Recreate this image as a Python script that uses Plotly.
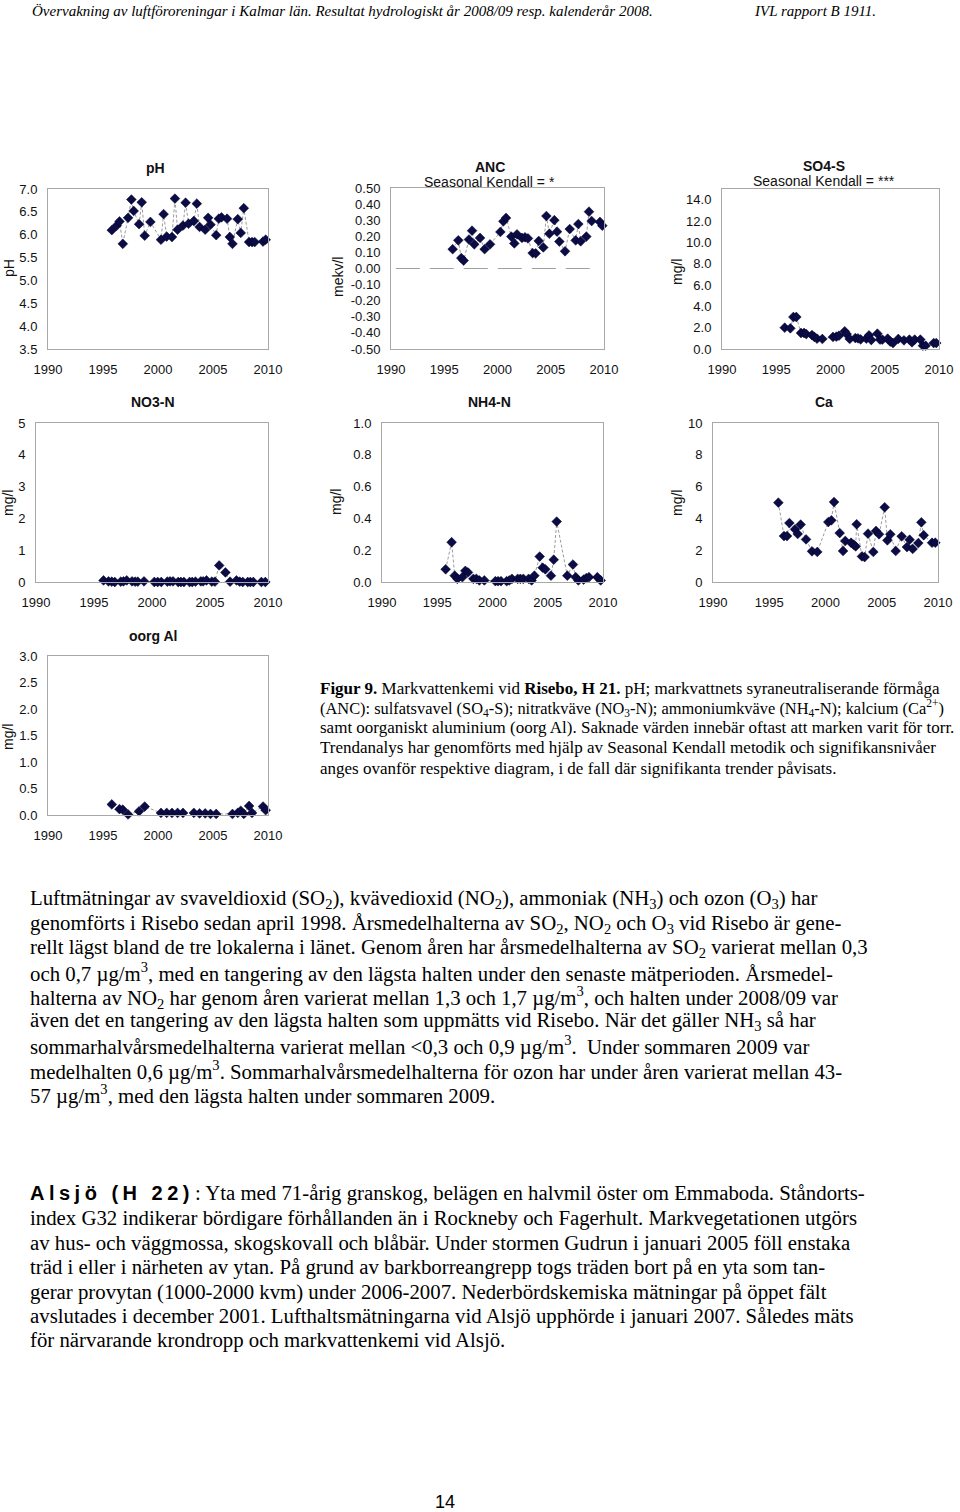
import plotly.graph_objects as go

W, H = 960, 1512

# ---------------- data (decimal year, value) ----------------
ph_years = [1995.80, 1996.25, 1996.50, 1996.80, 1997.28, 1997.58, 1997.79, 1998.28, 1998.52, 1998.79,
            1999.31, 2000.27, 2000.51, 2000.79, 2001.27, 2001.54, 2001.78, 2002.27, 2002.51, 2002.78,
            2003.26, 2003.53, 2003.78, 2004.29, 2004.56, 2004.77, 2005.29, 2005.53, 2005.77, 2006.28,
            2006.53, 2006.77, 2007.25, 2007.52, 2007.80, 2008.28, 2008.55, 2008.79, 2009.55, 2009.79]
ph_values = [6.10, 6.20, 6.29, 5.80, 6.37, 6.77, 6.52, 6.23, 6.71, 5.98,
             6.28, 5.89, 6.45, 5.96, 5.95, 6.79, 6.11, 6.20, 6.70, 6.24,
             6.30, 6.68, 6.17, 6.11, 6.37, 6.22, 5.99, 6.35, 6.38, 6.35,
             5.95, 5.80, 6.34, 6.04, 6.58, 5.84, 5.84, 5.84, 5.85, 5.89]

anc_years = [1995.79, 1996.32, 1996.60, 1996.82, 1997.32, 1997.61, 1997.82, 1998.36, 1998.79, 1999.30,
             2000.27, 2000.55, 2000.80, 2001.30, 2001.58, 2001.83, 2002.30, 2002.58, 2002.86, 2003.30,
             2003.58, 2003.87, 2004.30, 2004.59, 2004.87, 2005.34, 2005.59, 2005.81, 2006.34, 2006.78,
             2007.34, 2007.59, 2007.81, 2008.34, 2008.59, 2008.84, 2009.62, 2009.84]
anc_values = [0.12, 0.175, 0.065, 0.049, 0.18, 0.235, 0.15, 0.19, 0.12, 0.15,
              0.227, 0.293, 0.314, 0.198, 0.156, 0.212, 0.19, 0.194, 0.187, 0.096,
              0.094, 0.171, 0.131, 0.326, 0.216, 0.30, 0.229, 0.167, 0.107, 0.245,
              0.175, 0.276, 0.169, 0.198, 0.353, 0.295, 0.289, 0.266]
anc_zero_years = [1990.45, 2009.6]
anc_zero_values = [0.0, 0.0]
anc_tick_values = [-0.5, -0.4, -0.3, -0.2, -0.1, 0.0, 0.1, 0.2, 0.3, 0.4, 0.5]
anc_tick_labels = ["-0.50", "-0.40", "-0.30", "-0.20", "-0.10", "0.00",
                   "0.10", "0.20", "0.30", "0.40", "0.50"]

so4_years = [1995.78, 1996.30, 1996.58, 1996.85, 1997.28, 1997.56, 1997.77, 1998.29, 1998.51, 1998.76,
             1999.25, 2000.23, 2000.54, 2000.78, 2001.31, 2001.49, 2001.77, 2002.29, 2002.53, 2002.78,
             2003.30, 2003.55, 2003.76, 2004.32, 2004.56, 2004.78, 2005.27, 2005.51, 2005.76, 2006.25,
             2006.77, 2007.27, 2007.51, 2007.76, 2008.28, 2008.52, 2008.77, 2009.51, 2009.75]
so4_values = [2.0, 1.94, 3.0, 3.0, 1.5, 1.5, 1.4, 1.31, 1.13, 0.97,
              0.94, 1.13, 1.16, 1.25, 1.66, 1.4, 0.94, 1.03, 1.0, 0.9,
              0.97, 1.28, 0.84, 1.44, 0.88, 0.88, 0.97, 0.69, 0.56, 0.94,
              0.81, 0.88, 0.63, 0.88, 0.88, 0.31, 0.31, 0.56, 0.56]

no3_years = [1995.82, 1996.25, 1996.53, 1996.79, 1997.31, 1997.54, 1997.82, 1998.28, 1998.54, 1998.77,
             1999.31, 2000.20, 2000.49, 2000.80, 2001.32, 2001.55, 2001.81, 2002.26, 2002.49, 2002.75,
             2003.24, 2003.47, 2003.75, 2004.21, 2004.41, 2004.70, 2005.16, 2005.42, 2005.79, 2006.33,
             2006.73, 2007.28, 2007.56, 2007.82, 2008.25, 2008.48, 2008.74, 2009.43, 2009.77]
no3_values = [0.05, 0.02, 0.01, 0.0, 0.01, 0.02, 0.05, 0.02, 0.01, 0.01,
              0.02, 0.0, 0.0, 0.0, 0.01, 0.02, 0.02, 0.0, 0.0, 0.0,
              0.0, 0.0, 0.01, 0.02, 0.02, 0.05, 0.01, 0.01, 0.52, 0.30,
              0.01, 0.05, 0.01, 0.0, 0.0, 0.0, 0.0, 0.0, 0.0]

nh4_years = [1995.76, 1996.30, 1996.58, 1996.82, 1997.27, 1997.54, 1997.78, 1998.27, 1998.54, 1998.81,
             1999.26, 2000.26, 2000.50, 2000.77, 2001.28, 2001.52, 2001.76, 2002.28, 2002.52, 2002.79,
             2003.27, 2003.54, 2003.79, 2004.27, 2004.54, 2004.78, 2005.29, 2005.54, 2005.81, 2006.77,
             2007.28, 2007.53, 2007.77, 2008.25, 2008.49, 2008.73, 2009.49, 2009.79]
nh4_values = [0.08, 0.25, 0.04, 0.02, 0.03, 0.07, 0.06, 0.02, 0.02, 0.01,
              0.01, 0.005, 0.005, 0.005, 0.005, 0.01, 0.02, 0.02, 0.02, 0.02,
              0.02, 0.01, 0.04, 0.16, 0.09, 0.08, 0.04, 0.14, 0.38, 0.04,
              0.11, 0.03, 0.01, 0.015, 0.025, 0.03, 0.03, 0.01]

ca_years = [1995.81, 1996.31, 1996.58, 1996.79, 1997.29, 1997.53, 1997.79, 1998.27, 1998.80, 1999.27,
            2000.25, 2000.52, 2000.76, 2001.26, 2001.56, 2001.76, 2002.27, 2002.50, 2002.68, 2002.77,
            2003.24, 2003.48, 2003.78, 2004.25, 2004.49, 2004.76, 2005.26, 2005.50, 2005.76, 2006.24,
            2006.77, 2007.24, 2007.48, 2007.75, 2008.25, 2008.52, 2008.73, 2009.47, 2009.76]
ca_values = [4.99, 2.89, 2.89, 3.71, 3.31, 3.02, 3.61, 2.68, 1.93, 1.89,
             3.77, 3.88, 5.03, 3.08, 1.95, 2.58, 2.47, 2.35, 2.24, 3.63,
             1.61, 1.57, 3.04, 1.89, 3.21, 3.0, 4.70, 2.62, 3.0, 1.95,
             2.87, 2.20, 2.66, 2.08, 2.45, 3.75, 2.94, 2.47, 2.47]

al_years = [1995.80, 1996.50, 1996.80, 1997.28, 1998.28, 1998.79, 2000.27, 2000.79, 2001.27, 2001.78,
            2002.27, 2003.26, 2003.78, 2004.29, 2004.77, 2005.29, 2006.77, 2007.25, 2007.52, 2007.80,
            2008.28, 2008.55, 2009.55, 2009.79]
al_values = [0.20, 0.11, 0.10, 0.01, 0.07, 0.16, 0.04, 0.04, 0.04, 0.04,
             0.04, 0.04, 0.03, 0.03, 0.02, 0.02, 0.02, 0.04, 0.08, 0.02,
             0.17, 0.04, 0.16, 0.09]

x_ticks = [1990, 1995, 2000, 2005, 2010]

# ---------------- text ----------------
header_left = "Övervakning av luftföroreningar i Kalmar län. Resultat hydrologiskt år 2008/09 resp. kalenderår 2008."
header_right = "IVL rapport B 1911."

caption_lines = [
    "<b>Figur 9.</b> Markvattenkemi vid <b>Risebo, H 21.</b> pH; markvattnets syraneutraliserande förmåga",
    "(ANC): sulfatsvavel (SO<sub>4</sub>-S); nitratkväve (NO<sub>3</sub>-N); ammoniumkväve (NH<sub>4</sub>-N); kalcium (Ca<sup>2+</sup>)",
    "samt oorganiskt aluminium (oorg Al). Saknade värden innebär oftast att marken varit för torr.",
    "Trendanalys har genomförts med hjälp av Seasonal Kendall metodik och signifikansnivåer",
    "anges ovanför respektive diagram, i de fall där signifikanta trender påvisats.",
]

body_lines = [
    "Luftmätningar av svaveldioxid (SO<sub>2</sub>), kvävedioxid (NO<sub>2</sub>), ammoniak (NH<sub>3</sub>) och ozon (O<sub>3</sub>) har",
    "genomförts i Risebo sedan april 1998. Årsmedelhalterna av SO<sub>2</sub>, NO<sub>2</sub> och O<sub>3</sub> vid Risebo är gene-",
    "rellt lägst bland de tre lokalerna i länet. Genom åren har årsmedelhalterna av SO<sub>2</sub> varierat mellan 0,3",
    "och 0,7 µg/m<sup>3</sup>, med en tangering av den lägsta halten under den senaste mätperioden. Årsmedel-",
    "halterna av NO<sub>2</sub> har genom åren varierat mellan 1,3 och 1,7 µg/m<sup>3</sup>, och halten under 2008/09 var",
    "även det en tangering av den lägsta halten som uppmätts vid Risebo. När det gäller NH<sub>3</sub> så har",
    "sommarhalvårsmedelhalterna varierat mellan &lt;0,3 och 0,9 µg/m<sup>3</sup>.  Under sommaren 2009 var",
    "medelhalten 0,6 µg/m<sup>3</sup>. Sommarhalvårsmedelhalterna för ozon har under åren varierat mellan 43-",
    "57 µg/m<sup>3</sup>, med den lägsta halten under sommaren 2009.",
]

alsjo_head = "Alsjö (H 22)"
alsjo_first = ": Yta med 71-årig granskog, belägen en halvmil öster om Emmaboda. Ståndorts-"
alsjo_lines = [
    "index G32 indikerar bördigare förhållanden än i Rockneby och Fagerhult. Markvegetationen utgörs",
    "av hus- och väggmossa, skogskovall och blåbär. Under stormen Gudrun i januari 2005 föll enstaka",
    "träd i eller i närheten av ytan. På grund av barkborreangrepp togs träden bort på en yta som tan-",
    "gerar provytan (1000-2000 kvm) under 2006-2007. Nederbördskemiska mätningar på öppet fält",
    "avslutades i december 2001. Lufthaltsmätningarna vid Alsjö upphörde i januari 2007. Således mäts",
    "för närvarande krondropp och markvattenkemi vid Alsjö.",
]
page_number = "14"

# ---------------- layout helpers ----------------
SANS = "Liberation Sans, Arial, sans-serif"
SERIF = "Liberation Serif, Times New Roman, serif"
MARKER = "#0b0b45"
LINE = "#9c9c9c"
BORDER = "#a8a8a8"


def px_x(x):
    return x / W


def px_y(y):
    return 1 - y / H


charts = [
    dict(years=ph_years, values=ph_values, title="<b>pH</b>", sub=None, ytitle="pH",
         yrange=[3.5, 7.0], dtick=0.5, fmt=".1f", box=(48, 268, 189, 349),
         tx=155, ty=168, yx=9, yy=268),
    dict(years=anc_years, values=anc_values, title="<b>ANC</b>", sub="Seasonal Kendall = *", ytitle="mekv/l",
         yrange=[-0.5, 0.5], dtick=0.1, fmt=".2f", box=(391, 604, 188, 349),
         tx=490, ty=167, yx=338, yy=277),
    dict(years=so4_years, values=so4_values, title="<b>SO4-S</b>", sub="Seasonal Kendall = ***", ytitle="mg/l",
         yrange=[0, 15], dtick=2, fmt=".1f", box=(722, 939, 189, 349),
         tx=824, ty=166, yx=677, yy=272),
    dict(years=no3_years, values=no3_values, title="<b>NO3-N</b>", sub=None, ytitle="mg/l",
         yrange=[0, 5], dtick=1, fmt="d", box=(36, 268, 423, 582),
         tx=153, ty=402, yx=8, yy=503),
    dict(years=nh4_years, values=nh4_values, title="<b>NH4-N</b>", sub=None, ytitle="mg/l",
         yrange=[0, 1.0], dtick=0.2, fmt=".1f", box=(382, 603, 423, 582),
         tx=489, ty=402, yx=336, yy=502),
    dict(years=ca_years, values=ca_values, title="<b>Ca</b>", sub=None, ytitle="mg/l",
         yrange=[0, 10], dtick=2, fmt="d", box=(713, 938, 423, 582),
         tx=824, ty=402, yx=677, yy=503),
    dict(years=al_years, values=al_values, title="<b>oorg Al</b>", sub=None, ytitle="mg/l",
         yrange=[0, 3.0], dtick=0.5, fmt=".1f", box=(48, 268, 656, 815),
         tx=153, ty=636, yx=8, yy=737),
]

fig = go.Figure()
annotations = []
layout_axes = {}

for i, c in enumerate(charts, start=1):
    xa = "x" if i == 1 else f"x{i}"
    ya = "y" if i == 1 else f"y{i}"
    if i == 2:
        fig.add_trace(go.Scatter(
            x=anc_zero_years, y=anc_zero_values, xaxis=xa, yaxis=ya, mode="lines",
            line=dict(color="#a0a0a0", width=1.2, dash="24px,10px"), hoverinfo="skip",
        ))
    fig.add_trace(go.Scatter(
        x=c["years"], y=c["values"], xaxis=xa, yaxis=ya, mode="lines+markers",
        line=dict(color=LINE, width=1, dash="3px,2px"),
        marker=dict(symbol="diamond", size=7.5, color=MARKER, line=dict(color="#000028", width=0.5)),
        cliponaxis=False, hoverinfo="skip",
    ))
    l, r, t, b = c["box"]
    common = dict(showline=True, mirror=True, linecolor=BORDER, linewidth=1, showgrid=False,
                  zeroline=False, ticks="outside", tickcolor="rgba(0,0,0,0)",
                  tickfont=dict(family=SANS, size=13, color="#111"))
    layout_axes["xaxis" if i == 1 else f"xaxis{i}"] = dict(
        domain=[px_x(l), px_x(r)], anchor=ya, range=[1990, 2010], tickvals=x_ticks,
        ticklen=8, **common)
    yax = dict(domain=[px_y(b), px_y(t)], anchor=xa, range=c["yrange"], ticklen=7, **common)
    if i == 2:
        yax.update(tickvals=anc_tick_values, ticktext=anc_tick_labels)
    else:
        yax.update(tick0=c["yrange"][0], dtick=c["dtick"], tickformat=c["fmt"])
    layout_axes["yaxis" if i == 1 else f"yaxis{i}"] = yax
    annotations.append(dict(text=c["title"], x=px_x(c["tx"]), y=px_y(c["ty"]), xref="paper", yref="paper",
                            showarrow=False, xanchor="center", yanchor="middle",
                            font=dict(family=SANS, size=14, color="#111")))
    if c["sub"]:
        annotations.append(dict(text=c["sub"], x=px_x(c["tx"]), y=px_y(c["ty"] + 15), xref="paper",
                                yref="paper", showarrow=False, xanchor="center", yanchor="middle",
                                font=dict(family=SANS, size=14, color="#111")))
    annotations.append(dict(text=c["ytitle"], x=px_x(c["yx"]), y=px_y(c["yy"]), xref="paper", yref="paper",
                            showarrow=False, xanchor="center", yanchor="middle", textangle=-90,
                            font=dict(family=SANS, size=14, color="#111")))


def text_ann(txt, x, y, size, family=SERIF, anchor="left", style="normal", weight="normal"):
    return dict(text=txt, x=px_x(x), y=px_y(y), xref="paper", yref="paper", showarrow=False,
                xanchor=anchor, yanchor="middle", align="left",
                font=dict(family=family, size=size, color="#000", style=style, weight=weight))


annotations.append(text_ann(header_left, 30, 11, 15, style="italic"))
annotations.append(text_ann(header_right, 752, 11, 15, style="italic"))

caption_y = [688, 708, 728, 748, 768]
caption_sizes = [17, 16.4, 17, 17, 17]
for line, y, s in zip(caption_lines, caption_y, caption_sizes):
    annotations.append(text_ann(line, 318, y, s))

body_y = [899, 924, 948, 972, 997, 1021, 1045, 1070, 1094]
for line, y in zip(body_lines, body_y):
    annotations.append(text_ann(line, 28, y, 20.8))

annotations.append(text_ann('<span style="letter-spacing:4.5px">' + alsjo_head + '</span>',
                            28, 1193, 20, family=SANS, weight="bold"))
annotations.append(text_ann(alsjo_first, 193, 1193, 20.8))
alsjo_y = [1218, 1243, 1267, 1292, 1316, 1340]
for line, y in zip(alsjo_lines, alsjo_y):
    annotations.append(text_ann(line, 28, y, 20.8))

annotations.append(text_ann(page_number, 445, 1502, 18, family=SANS, anchor="center"))

fig.update_layout(
    width=W, height=H, autosize=False,
    margin=dict(l=0, r=0, t=0, b=0, pad=0, autoexpand=False),
    paper_bgcolor="white", plot_bgcolor="white", showlegend=False,
    annotations=annotations, **layout_axes,
)

fig.write_html("out.html", config={"displayModeBar": False, "staticPlot": True},
               post_script="document.body.style.margin='0px';document.body.style.padding='0px';")
